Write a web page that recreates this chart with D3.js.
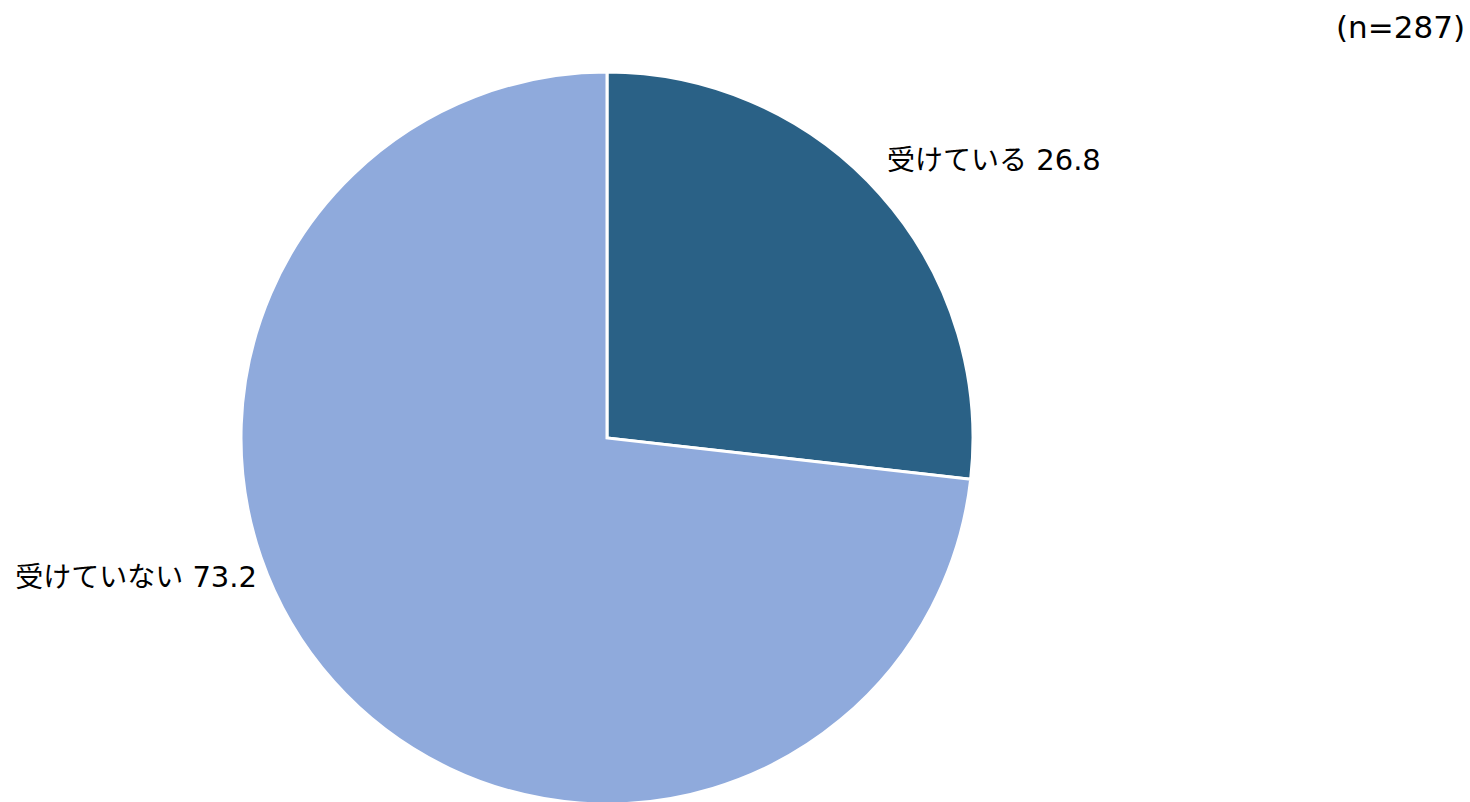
<!DOCTYPE html>
<html><head><meta charset="utf-8">
<script src="https://cdn.jsdelivr.net/npm/d3@7"></script>
<style>
html,body{margin:0;padding:0;background:#fff;overflow:hidden}
text{fill:#000}
.jp{font-family:"Noto Sans CJK JP","Noto Sans",sans-serif}
.num{font-family:"DejaVu Sans","Noto Sans",sans-serif}
</style></head>
<body>
<svg id="chart" width="1470" height="802"></svg>
<script>
const categories = ["受けている", "受けていない"];
const values = [26.8, 73.2];
const colors = ["#2a6186", "#8faadc"];
const sampleNote = "(n=287)";

const W = 1470, H = 802;
const cx = 607, cy = 438, R = 366;
const svg = d3.select("#chart");
const g = svg.append("g").attr("transform", `translate(${cx},${cy})`);

const pie = d3.pie().sort(null).value(d => d.v);
const data = pie(categories.map((c, i) => ({c, v: values[i], col: colors[i]})));
const arc = d3.arc().innerRadius(0).outerRadius(R);

g.selectAll("path").data(data).join("path")
  .attr("d", arc)
  .attr("fill", d => d.data.col)
  .attr("stroke", "#fff")
  .attr("stroke-width", 3)
  .attr("stroke-linejoin", "miter");

const labelLayout = [
  {dx: 280, dy: -268, anchor: "start"},
  {dx: -350, dy: 149, anchor: "end"}
];
const lbl = g.selectAll("text.lbl").data(data).join("text")
  .attr("class", "lbl")
  .attr("x", (d, i) => labelLayout[i].dx)
  .attr("y", (d, i) => labelLayout[i].dy)
  .attr("text-anchor", (d, i) => labelLayout[i].anchor);
lbl.append("tspan").attr("class", "jp").attr("font-size", 28).text(d => d.data.c);
lbl.append("tspan").attr("class", "num").attr("font-size", 29).text(d => " " + d3.format(".1f")(d.data.v));

svg.append("text")
  .attr("class", "num")
  .attr("x", 1465).attr("y", 38)
  .attr("text-anchor", "end")
  .attr("font-size", 31)
  .text(sampleNote);
</script>
</body></html>
